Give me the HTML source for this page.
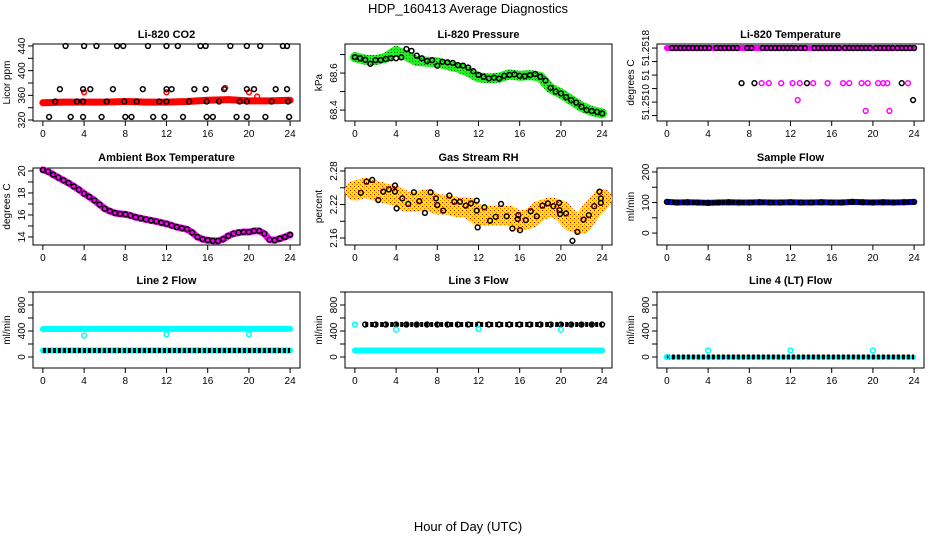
<!DOCTYPE html>
<html><head><meta charset="utf-8"><style>
html,body{margin:0;padding:0;background:#fff;}
svg{display:block;font-family:"Liberation Sans",Arial,sans-serif;}
</style></head><body>
<svg id="c" width="936" height="540" viewBox="0 0 936 540">
<defs>
<pattern id="rhpat" width="4" height="4" patternUnits="userSpaceOnUse">
<rect width="4" height="4" fill="#ffee00"/><rect x="0" y="0" width="1" height="1" fill="#ff6600"/><rect x="2" y="2" width="1" height="1" fill="#e00000"/>
</pattern>
<pattern id="grpat" width="3" height="3" patternUnits="userSpaceOnUse">
<rect width="3" height="3" fill="#22ee22"/><rect x="1" y="1" width="1" height="1" fill="#116611"/>
</pattern>
</defs>
<text x="468" y="13" text-anchor="middle" font-size="13">HDP_160413  Average Diagnostics</text>
<text x="468" y="531" text-anchor="middle" font-size="13">Hour of Day (UTC)</text>
</svg>
<script>
// ---- data ----
const xTicks = [0,4,8,12,16,20,24];
// CO2
const co2BandHours = [0,2,4,6,8,10,12,14,16,18,20,22,24];
const co2BandVals = [348,349,349,349,350,349,349,350,352,353,351,351,352];
const co2TopHours = [2.2,4.0,5.2,7.2,7.8,10.2,12.0,13.1,15.3,15.8,18.2,19.8,21.1,23.3,23.7];
const co2MidHours = [1.65,3.9,4.6,6.8,9.7,12,12.5,14.7,15.8,17.6,19.8,20.5,22.6,23.7];
const co2LowHours = [1.2,3.3,3.9,6.2,7.9,9.1,11.3,12,14.2,15.9,17.1,19.1,19.8,22.2,23.8];
const co2BotHours = [0.6,2.7,3.9,5.7,8,8.6,10.7,11.8,13.6,15.9,16.5,18.8,19.8,21.6,23.9];
const co2Levels = [440,370,350,325];
const co2RedOutHours = [4.0,12.0,17.7,20.0,20.8];
const co2RedOutVals = [365,365,372,365,358];
// Pressure
const presHours = [0,0.5,1,1.5,2,2.5,3,3.5,4,4.5,5,5.5,6,6.5,7,7.5,8,8.5,9,9.5,10,10.5,11,11.5,12,12.5,13,13.5,14,14.5,15,15.5,16,16.5,17,17.5,18,18.5,19,19.5,20,20.5,21,21.5,22,22.5,23,23.5,24];
const presVals = [68.686,68.68,68.672,68.65,68.67,68.67,68.676,68.68,68.68,68.685,68.73,68.72,68.694,68.68,68.665,68.67,68.64,68.661,68.658,68.655,68.643,68.64,68.63,68.61,68.59,68.58,68.571,68.575,68.57,68.585,68.59,68.593,68.585,68.583,68.589,68.595,68.58,68.56,68.52,68.50,68.49,68.47,68.454,68.44,68.418,68.40,68.395,68.39,68.382];
const presBandVals = [68.686,68.672,68.67,68.683,68.72,68.694,68.665,68.661,68.658,68.643,68.63,68.607,68.577,68.571,68.575,68.593,68.585,68.589,68.58,68.517,68.49,68.454,68.418,68.395,68.382];
// Temperature
const tempTopHours = [0.5,0.9,1.3,1.7,2.1,2.5,2.9,3.3,3.7,4.1,4.8,5.2,5.6,6,6.4,6.8,7.8,8.2,9.3,9.7,10.1,10.5,10.9,11.3,11.7,12.1,12.5,13,13.4,14.3,14.7,15.1,15.5,15.9,16.3,16.7,17.3,17.7,18.1,18.5,18.9,19.3,19.7,20.3,20.7,21.1,21.5,21.9,22.4,22.8,23.2,23.6,24];
const tempTopVal = 51.2518;
const tempMidBlackHours = [7.25,8.5,13.6,22.8];
const tempMidMagHours = [9.2,9.9,11.1,12.2,12.9,14.2,15.6,17.1,17.7,18.9,19.5,20.5,21,21.4,23.4];
const tempMidVal = 51.25128;
const tempLowHours = [12.7,23.9,19.3,21.6];
const tempLowVals = [51.25103,51.25103,51.25087,51.25087];
const tempLowColors = ['#ff00ff','#000','#ff00ff','#ff00ff'];
// Ambient
const ambHours = presHours;
const ambVals = [20.1,19.95,19.67,19.4,19.15,18.9,18.6,18.3,17.94,17.65,17.33,16.95,16.58,16.35,16.18,16.1,16.06,15.95,15.8,15.7,15.6,15.5,15.42,15.3,15.2,15.05,14.9,14.8,14.7,14.4,14.0,13.8,13.7,13.65,13.64,13.8,14.1,14.3,14.4,14.45,14.45,14.55,14.55,14.3,13.76,13.7,13.85,14.0,14.2];
// Gas RH
const rhHours = [0.58,1.13,1.68,2.27,2.75,3.3,3.89,3.89,4.05,4.6,5.18,5.73,6.25,6.8,7.35,7.87,8.0,8.58,9.17,9.65,10.2,10.76,11.27,11.83,11.83,11.92,12.57,13.12,13.67,14.19,14.74,15.29,15.81,15.87,16.03,16.59,17.07,17.66,18.2,18.73,19.27,19.83,19.86,19.92,20.5,21.12,21.6,22.19,22.71,23.23,23.74,23.88,23.88];
const rhVals = [2.241,2.261,2.264,2.228,2.243,2.247,2.254,2.243,2.213,2.231,2.221,2.242,2.226,2.205,2.242,2.231,2.219,2.209,2.236,2.225,2.225,2.218,2.222,2.227,2.209,2.179,2.215,2.191,2.198,2.221,2.199,2.177,2.194,2.201,2.174,2.192,2.208,2.199,2.218,2.222,2.217,2.223,2.21,2.203,2.204,2.155,2.171,2.193,2.201,2.217,2.243,2.231,2.223];
const hourly = [0,1,2,3,4,5,6,7,8,9,10,11,12,13,14,15,16,17,18,19,20,21,22,23,24];
const rhBandVals = [2.245,2.25,2.245,2.24,2.235,2.225,2.225,2.23,2.22,2.22,2.215,2.215,2.2,2.2,2.2,2.2,2.19,2.195,2.21,2.215,2.21,2.19,2.185,2.21,2.23];
// Flows
const sampleVals = [102,100,101,100,99,100,101,100,100,101,100,100,101,100,100,101,100,100,102,101,100,101,100,101,102];
const line2HighVals = [430,432,430,431,432,433,432,433,433,433,432,433,433,433,432,433,433,433,433,433,433,433,432,433,433];
const line2LowVals = [100,100,100,100,100,100,100,100,100,100,100,100,100,100,100,100,100,100,100,100,100,100,100,100,100];
const line2OutHours = [4,12,20];
const line2OutVals = [330,350,350];
const line3HighVals = [500,500,500,500,500,500,500,500,500,500,500,500,500,500,500,500,500,500,500,500,500,500,500,500,500];
const line3LowVals = [100,100,100,100,100,100,100,100,100,100,100,100,100,100,100,100,100,100,100,100,100,100,100,100,100];
const line3OutHours = [0,4,12,20];
const line3OutVals = [500,420,430,420];
const line4Vals = [0,0,0,0,0,0,0,0,0,0,0,0,0,0,0,0,0,0,0,0,0,0,0,0,0];
const line4OutHours = [0,4,12,20];
const line4OutVals = [0,100,100,100];

// ---- drawing ----
const svg = document.getElementById('c');
const NS = 'http://www.w3.org/2000/svg';
function mk(tag, attrs, parent){ const e=document.createElementNS(NS,tag); for(const k in attrs) e.setAttribute(k,attrs[k]); (parent||svg).appendChild(e); return e; }
const cols = [[33,300],[345,612],[657,924]];
const rows = [[44,121,34],[168,245,157],[292,368,280]];
function panel(ci, ri, title, ylab, ymin, ymax, yticks, ylabels, name, labelShift){
  const [L,R]=cols[ci], [T,B,ty]=rows[ri];
  const g = mk('g',{});
  
  
  const X = h => L + (h + 0.96) / 25.92 * (R - L);
  const Y = v => B - (v - ymin) / (ymax - ymin) * (B - T);
  const t = mk('text',{x:(L+R)/2,y:ty+4,'text-anchor':'middle','font-size':11,'font-weight':'bold'},g);
  t.textContent = title;
  
  
  const f = mk('rect',{x:L,y:T,width:R-L,height:B-T,fill:'none',stroke:'#000','stroke-width':1},g);
  
  
  xTicks.forEach(h=>{
    mk('line',{x1:X(h),x2:X(h),y1:B,y2:B+5,stroke:'#000'},g);
    const tl = mk('text',{x:X(h),y:B+16,'text-anchor':'middle','font-size':10},g);
    tl.textContent = h;
    
    
  });
  yticks.forEach((v,i)=>{
    mk('line',{x1:L-5,x2:L,y1:Y(v),y2:Y(v),stroke:'#000'},g);
    if(ylabels[i]!==''){
      const sh = labelShift ? labelShift[i] : 0;
      const yl = mk('text',{x:0,y:0,'text-anchor':'middle','font-size':10,transform:`translate(${L-8},${Y(v)+sh}) rotate(-90)`},g);
      yl.textContent = ylabels[i];
      
      
    }
  });
  const at = mk('text',{x:0,y:0,'text-anchor':'middle','font-size':10,transform:`translate(${L-23},${(T+B)/2}) rotate(-90)`},g);
  at.textContent = ylab;
  
  
  return {g,X,Y};
}
function band(p, hs, vs, color, w, nm){
  const pts = hs.map((h,i)=>p.X(h)+','+p.Y(vs[i])).join(' ');
  const e = mk('polyline',{points:pts,fill:'none',stroke:color,'stroke-width':w,'stroke-linejoin':'round','stroke-linecap':'round'},p.g);
  
  
}
function pts(p, hs, vs, color, nm, r){
  hs.forEach((h,i)=>{
    const v = Array.isArray(vs) ? vs[i] : vs;
    const col = Array.isArray(color) ? color[i] : color;
    const c = mk('circle',{cx:p.X(h),cy:p.Y(v),r:r||2.4,fill:'none',stroke:col,'stroke-width':1.5},p.g);
    
    
  });
}
function dottedRow(p, hs, vs, color, nm){
  const d = hs.map((h,i)=>p.X(h)+','+p.Y(vs[i])).join(' ');
  const e = mk('polyline',{points:d,fill:'none',stroke:color,'stroke-width':5,'stroke-dasharray':'3 2'},p.g);
  
  
}

// P1 CO2
let p = panel(0,0,'Li-820 CO2','Licor ppm',318.4,443.2,[320,340,360,380,400,420,440],['320','','360','','400','','440'],'co2');
band(p, co2BandHours, co2BandVals, '#ff0000', 7, 'co2-red-band');
pts(p, co2RedOutHours, co2RedOutVals, '#ff0000', 'co2-red-point');
[co2TopHours,co2MidHours,co2LowHours,co2BotHours].forEach((hs,i)=>pts(p, hs, co2Levels[i], '#000', 'co2-black-point'));
// P2 Pressure
p = panel(1,0,'Li-820 Pressure','kPa',68.341,68.757,[68.4,68.5,68.6,68.7],['68.4','','68.6',''],'pressure');
band(p, hourly, presBandVals, 'url(#grpat)', 10, 'pressure-green-band');
pts(p, presHours, presVals, '#000', 'pressure-point');
// P3 Temperature
p = panel(2,0,'Li-820 Temperature','degrees C',51.25072,51.25186,[51.2518,51.2516,51.2514,51.2512,51.2510,51.2508],['51.2518','','51','','51.2510',''],'li820-temp',[0,0,0,0,0,0]);
band(p, [0,24], [tempTopVal,tempTopVal], '#ff00ff', 6, 'temp-magenta-band');
pts(p, tempTopHours, tempTopVal, '#000', 'temp-black-point');
pts(p, tempMidBlackHours, tempMidVal, '#000', 'temp-black-point');
pts(p, tempMidMagHours, tempMidVal, '#ff00ff', 'temp-magenta-point');
pts(p, tempLowHours, tempLowVals, tempLowColors, 'temp-low-point');
// P4 Ambient
p = panel(0,1,'Ambient Box Temperature','degrees C',13.27,20.27,[14,15,16,17,18,19,20],['14','','16','','18','','20'],'ambient');
band(p, ambHours, ambVals, '#ff00ff', 7, 'ambient-magenta-band');
pts(p, ambHours, ambVals, '#000', 'ambient-point');
// P5 RH
p = panel(1,1,'Gas Stream RH','percent',2.1475,2.2854,[2.16,2.19,2.22,2.25,2.28],['2.16','','2.22','','2.28'],'rh');
band(p, hourly, rhBandVals, 'url(#rhpat)', 20, 'rh-band');
pts(p, rhHours, rhVals, '#000', 'rh-point');
// P6 Sample Flow
p = panel(2,1,'Sample Flow','ml/min',-39,213,[0,50,100,150,200],['0','','100','','200'],'sample-flow');
band(p, hourly, sampleVals, '#0000ff', 6, 'sample-flow-band');
dottedRow(p, hourly, sampleVals, '#000', 'sample-flow-points');
pts(p, hourly, sampleVals, '#000', 'sample-flow-point');
// P7 Line 2
p = panel(0,2,'Line 2 Flow','ml/min',-169,1000,[0,200,400,600,800,1000],['0','','400','','800',''],'line2');
band(p, hourly, line2HighVals, '#00ffff', 6, 'line2-high-band');
band(p, hourly, line2LowVals, '#00ffff', 6, 'line2-low-band');
dottedRow(p, hourly, line2LowVals, '#000', 'line2-black-points');
pts(p, line2OutHours, line2OutVals, '#00ffff', 'line2-outlier');
// P8 Line 3
p = panel(1,2,'Line 3 Flow','ml/min',-169,1000,[0,200,400,600,800,1000],['0','','400','','800',''],'line3');
band(p, hourly, line3LowVals, '#00ffff', 6, 'line3-low-band');
dottedRow(p, hourly.slice(1), line3HighVals.slice(1), '#000', 'line3-black-points');
pts(p, hourly.slice(1), line3HighVals.slice(1), '#000', 'line3-point');
pts(p, line3OutHours, line3OutVals, '#00ffff', 'line3-outlier');
// P9 Line 4
p = panel(2,2,'Line 4 (LT) Flow','ml/min',-169,1000,[0,200,400,600,800,1000],['0','','400','','800',''],'line4');
band(p, hourly, line4Vals, '#00ffff', 4, 'line4-band');
dottedRow(p, hourly, line4Vals, '#000', 'line4-black-points');
pts(p, line4OutHours, line4OutVals, '#00ffff', 'line4-outlier');
</script>
</body></html>
